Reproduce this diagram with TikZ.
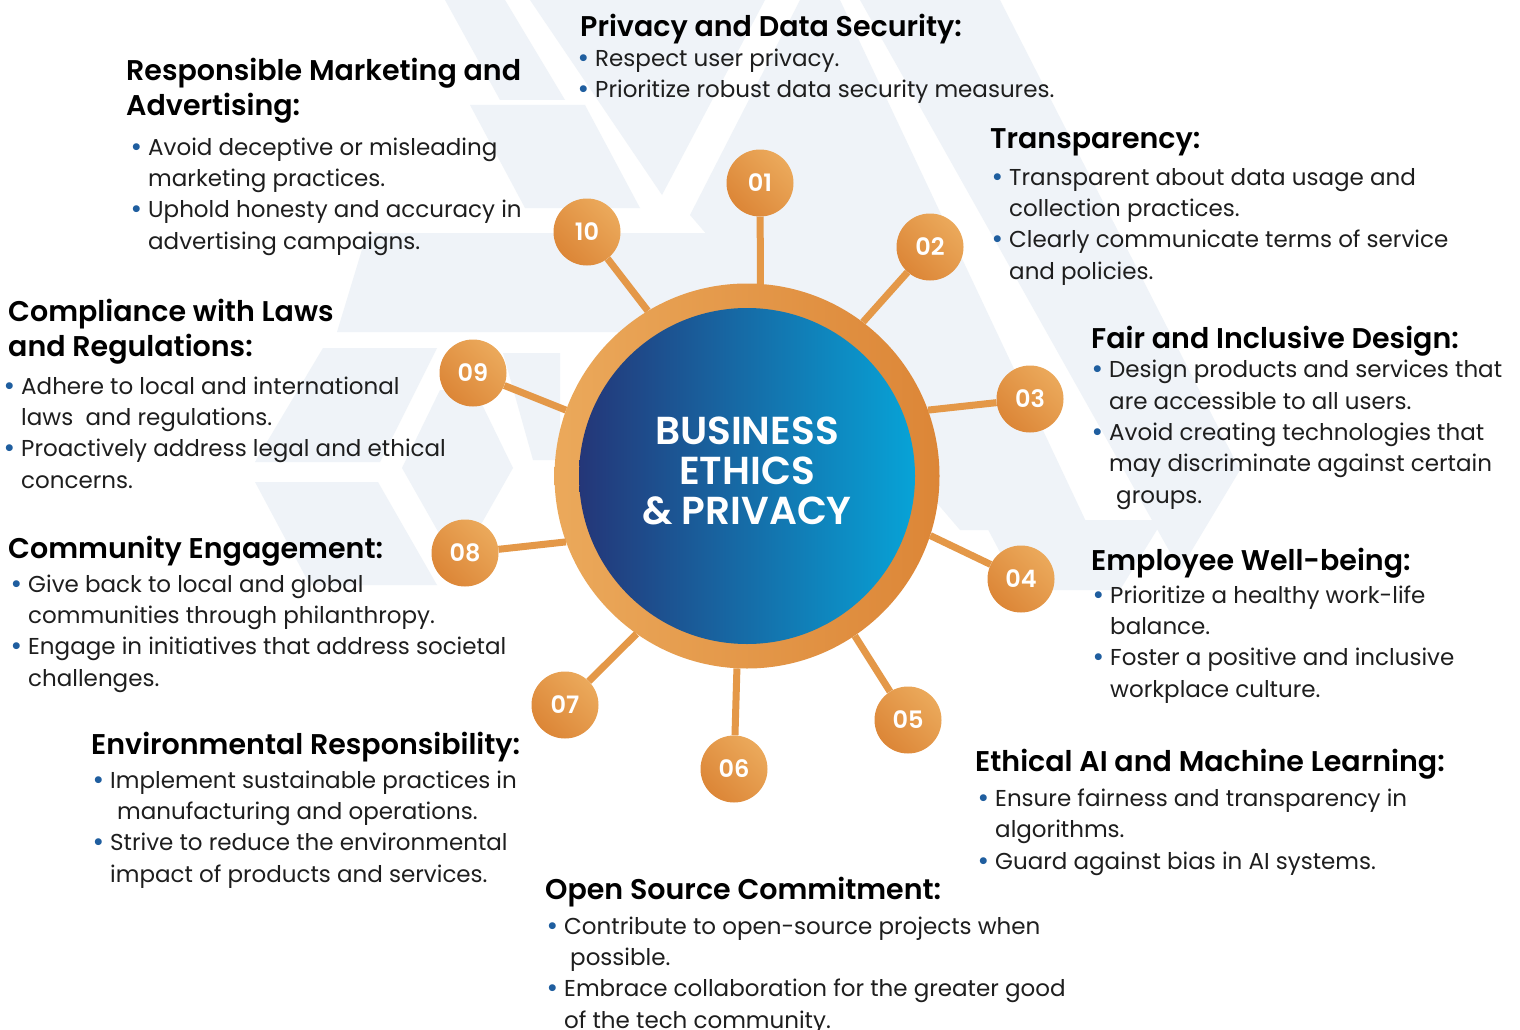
\documentclass[tikz,border=0pt]{standalone}
\usepackage{fontspec}
\setmainfont{Poppins}[BoldFont={Poppins SemiBold}]
\usepackage{xcolor}

\definecolor{ringlight}{HTML}{EBA95B}
\definecolor{ringdark}{HTML}{DC8637}
\definecolor{hubnavy}{HTML}{243678}
\definecolor{hubcyan}{HTML}{07A3D7}
\definecolor{spokeor}{HTML}{E49848}
\definecolor{dotblue}{HTML}{1F5E9F}
\definecolor{bgtint}{HTML}{EFF3F8}
\definecolor{inktext}{HTML}{1E1E1E}

\newcommand{\bl}{\makebox[15pt][l]{\hspace*{-2.5pt}\raisebox{-1pt}{\textcolor{dotblue}{\fontsize{28}{28}\selectfont\textbullet}}}}
\newcommand{\ind}{\hspace*{15pt}}

\tikzset{
  hubring/.style={circle, minimum size=385pt, inner sep=0pt, left color=ringlight, right color=ringdark},
  hubcore/.style={circle, minimum size=336pt, inner sep=0pt, left color=hubnavy, right color=hubcyan},
  hubtitle/.style={text=white, align=center, inner sep=0pt, font=\fontsize{39}{40}\selectfont\bfseries},
  numdot/.style={circle, minimum size=67pt, inner sep=0pt, left color=ringdark, right color=ringlight,
    shading angle=135, text=white, font=\fontsize{24}{24}\selectfont\bfseries},
  spokeline/.style={draw=spokeor, line width=7pt},
  heading/.style={anchor=base west, inner sep=0pt, align=left, text=black,
    font=\fontsize{28.5}{35}\selectfont\bfseries},
  bodytext/.style={anchor=base west, inner sep=0pt, align=left, text=inktext,
    font=\fontsize{23}{31.3}\selectfont},
  bgshape/.style={fill=bgtint}
}

\begin{document}
\begin{tikzpicture}[x=1pt,y=-1pt]
  \useasboundingbox[fill=white] (0,0) rectangle (1520,1030);

  % faint background shapes
  \fill[bgshape] (445,0) -- (505,0) -- (565,100) -- (500,100) -- cycle;
  \fill[bgshape] (530,0) -- (765,0) -- (662,195) -- cycle;
  \fill[bgshape] (470,105) -- (585,105) -- (640,208) -- (525,208) -- cycle;
  \fill[bgshape] (367,233) -- (787,233) -- (840,332) -- (337,332) -- cycle;
  \fill[bgshape] (800,0) -- (840,0) -- (1090,530) -- (960,530) -- (690,215) -- cycle;
  \fill[bgshape] (860,0) -- (1000,0) -- (1240,470) -- (1180,570) -- cycle;
  \fill[bgshape] (323,348) -- (437,348) -- (380,462) -- (255,462) -- cycle;
  \fill[bgshape] (402,468) -- (440,390) -- (475,390) -- (513,468) -- (475,535) -- (440,535) -- cycle;
  \fill[bgshape] (503,353) -- (560,353) -- (560,460) -- (533,460) -- cycle;
  \fill[bgshape] (255,482) -- (378,482) -- (437,585) -- (310,585) -- cycle;
  \fill[bgshape] (983,520) -- (1163,520) -- (1120,590) -- (1020,590) -- cycle;

  % hub
  \node[hubring] (ring) at (747,476) {};
  \node[hubcore] (hub) at (747,476) {};
  \node[hubtitle] (title) at (747,471) {BUSINESS\\ETHICS\\\& PRIVACY};

  % numbered dots
  \node[numdot] (n01) at (760,183) {01};
  \node[numdot] (n02) at (930,247) {02};
  \node[numdot] (n03) at (1030,399) {03};
  \node[numdot] (n04) at (1021,579) {04};
  \node[numdot] (n05) at (908,720) {05};
  \node[numdot] (n06) at (734,769) {06};
  \node[numdot] (n07) at (565,705) {07};
  \node[numdot] (n08) at (465,553) {08};
  \node[numdot] (n09) at (473,373) {09};
  \node[numdot] (n10) at (587,232) {10};

  % spokes
  \draw[spokeline] (n01) -- (ring.86);
  \draw[spokeline] (n02) -- (ring.53);
  \draw[spokeline] (n03) -- (ring.20);
  \draw[spokeline] (n04) -- (ring.-18);
  \draw[spokeline] (n05) -- (ring.-56);
  \draw[spokeline] (n06) -- (ring.-93);
  \draw[spokeline] (n07) -- (ring.-125);
  \draw[spokeline] (n08) -- (ring.200);
  \draw[spokeline] (n09) -- (ring.160);
  \draw[spokeline] (n10) -- (ring.121);

  % text blocks (base = last line)
  \node[heading] (hPriv) at (580,37) {Privacy and Data Security:};
  \node[bodytext] (bPriv) at (580,98) {\bl Respect user privacy.\\
    \bl Prioritize robust data security measures.};

  \node[heading] (hMark) at (126,116) {Responsible Marketing and\\Advertising:};
  \node[bodytext] (bMark) at (133,249) {\bl Avoid deceptive or misleading\\
    \ind marketing practices.\\
    \bl Uphold honesty and accuracy in\\
    \ind advertising campaigns.};

  \node[heading] (hTrans) at (990,148) {Transparency:};
  \node[bodytext] (bTrans) at (994,279) {\bl Transparent about data usage and\\
    \ind collection practices.\\
    \bl Clearly communicate terms of service\\
    \ind and policies.};

  \node[heading] (hFair) at (1091,348) {Fair and Inclusive Design:};
  \node[bodytext] (bFair) at (1094,503) {\bl Design products and services that\\
    \ind are accessible to all users.\\
    \bl Avoid creating technologies that\\
    \ind may discriminate against certain\\
    \ind\hspace*{7pt}groups.};

  \node[heading] (hLaw) at (8,356) {Compliance with Laws\\and Regulations:};
  \node[bodytext] (bLaw) at (6,488) {\bl Adhere to local and international\\
    \ind laws\ \ and regulations.\\
    \bl Proactively address legal and ethical\\
    \ind concerns.};

  \node[heading] (hComm) at (8,558) {Community Engagement:};
  \node[bodytext] (bComm) at (13,686) {\bl Give back to local and global\\
    \ind communities through philanthropy.\\
    \bl Engage in initiatives that address societal\\
    \ind challenges.};

  \node[heading] (hEmp) at (1091,570) {Employee Well-being:};
  \node[bodytext] (bEmp) at (1095,697) {\bl Prioritize a healthy work-life\\
    \ind balance.\\
    \bl Foster a positive and inclusive\\
    \ind workplace culture.};

  \node[heading] (hEnv) at (91,754) {Environmental Responsibility:};
  \node[bodytext] (bEnv) at (95,882) {\bl Implement sustainable practices in\\
    \ind\hspace*{7pt}manufacturing and operations.\\
    \bl Strive to reduce the environmental\\
    \ind impact of products and services.};

  \node[heading] (hAI) at (975,771) {Ethical AI and Machine Learning:};
  \node[bodytext] (bAI) at (980,869) {\bl Ensure fairness and transparency in\\
    \ind algorithms.\\
    \bl Guard against bias in AI systems.};

  \node[heading] (hOpen) at (545,899) {Open Source Commitment:};
  \node[bodytext] (bOpen) at (549,1028) {\bl Contribute to open-source projects when\\
    \ind\hspace*{6pt}possible.\\
    \bl Embrace collaboration for the greater good\\
    \ind of the tech community.};
\end{tikzpicture}
\end{document}
